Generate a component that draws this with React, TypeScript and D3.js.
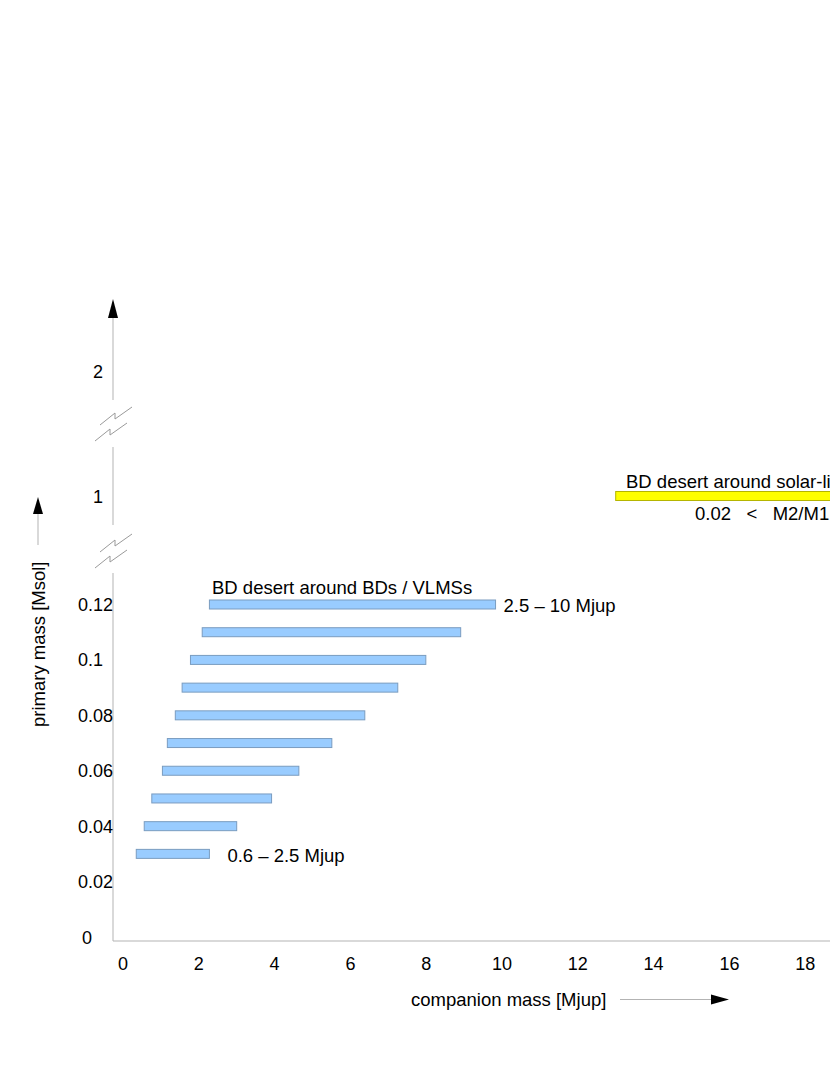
import React from 'react';
import * as d3 from 'd3';

// BD desert around BDs / VLMSs: primary mass [Msol] vs companion mass range [Mjup]
const primaryMass = [0.12, 0.11, 0.1, 0.09, 0.08, 0.07, 0.06, 0.05, 0.04, 0.03];
const desertMin = [2.28, 2.09, 1.78, 1.56, 1.38, 1.17, 1.04, 0.76, 0.56, 0.35];
const desertMax = [9.83, 8.91, 7.99, 7.25, 6.38, 5.51, 4.64, 3.92, 3.0, 2.28];

// BD desert around solar-like stars (runs off the right edge)
const solarMass = [1];
const solarMin = [13];
const solarMax = [80];

const xTicks = [0, 2, 4, 6, 8, 10, 12, 14, 16, 18];
const yTicksLow = [0, 0.02, 0.04, 0.06, 0.08, 0.1, 0.12];
const yTicksHigh = [1, 2];

const W = 830;
const H = 1075;
const FONT = '"Liberation Sans", Arial, sans-serif';
const AXIS = '#b3b3b3';

export default function App() {
  const x = d3.scaleLinear().domain([0, 18]).range([123, 805.2]);
  const yLow = d3.scaleLinear().domain([0, 0.12]).range([937, 604.5]);
  const yHigh = d3.scaleLinear().domain([1, 2]).range([496, 371.5]);

  const axisX = 113;
  const barH = 9;

  // broken-axis glyph
  const breakPath = (cy: number) => {
    const one = (dx: number, dy: number) =>
      `M${axisX - 15 + dx},${cy + 9 + dy} L${axisX + dx},${cy - 3 + dy} L${axisX + dx},${cy + 3 + dy} L${axisX + 17 + dx},${cy - 9 + dy}`;
    return one(2, -8) + ' ' + one(-3, 8);
  };

  const bars = primaryMass.map((m, i) => ({ m, lo: desertMin[i], hi: desertMax[i] }));
  const solar = solarMass.map((m, i) => ({ m, lo: solarMin[i], hi: solarMax[i] }));

  return (
    <div style={{ position: 'absolute', left: 0, top: 0 }}>
      <svg width={W} height={H} style={{ display: 'block', background: '#fff' }} fontFamily={FONT}>
        {/* y axis, in three pieces */}
        <line x1={axisX} x2={axisX} y1={941} y2={573} stroke={AXIS} />
        <line x1={axisX} x2={axisX} y1={525} y2={447} stroke={AXIS} />
        <line x1={axisX} x2={axisX} y1={400} y2={316} stroke={AXIS} />
        <path d={`M${axisX},299 L${axisX - 5},318 L${axisX + 5},318 Z`} fill="#000" />
        <path d={breakPath(424)} fill="none" stroke="#9a9a9a" />
        <path d={breakPath(551)} fill="none" stroke="#9a9a9a" />

        {/* x axis */}
        <line x1={axisX} x2={W} y1={941} y2={941} stroke={AXIS} />

        {xTicks.map((t) => (
          <text key={t} x={x(t)} y={969.5} textAnchor="middle" fontSize={18} fill="#000">
            {t}
          </text>
        ))}
        {yTicksLow.map((t) => (
          <text key={t} x={t === 0 ? 82 : 78} y={yLow(t) + 6.5} fontSize={18} fill="#000">
            {t}
          </text>
        ))}
        {yTicksHigh.map((t) => (
          <text key={t} x={93} y={yHigh(t) + 6.5} fontSize={18} fill="#000">
            {t}
          </text>
        ))}

        {/* axis titles */}
        <text x={411} y={1006} fontSize={18.5} fill="#000">companion mass [Mjup]</text>
        <line x1={620} x2={714} y1={999.5} y2={999.5} stroke={AXIS} />
        <path d="M729,999.5 L711,994.5 L711,1004.5 Z" fill="#000" />

        <text transform="translate(45,727) rotate(-90)" fontSize={18.5} fill="#000">
          primary mass [Msol]
        </text>
        <line x1={38} x2={38} y1={545} y2={512} stroke={AXIS} />
        <path d="M38,497 L33,514 L43,514 Z" fill="#000" />

        {/* blue bars */}
        {bars.map((d) => (
          <rect
            key={d.m}
            x={x(d.lo)}
            y={yLow(d.m) - barH / 2}
            width={x(d.hi) - x(d.lo)}
            height={barH}
            fill="#99ccff"
            stroke="#7a9cc0"
            strokeWidth={1}
          />
        ))}
        <text x={212} y={594} fontSize={18.5} fill="#000">BD desert around BDs / VLMSs</text>
        <text x={x(desertMax[0]) + 8} y={yLow(primaryMass[0]) + 7} fontSize={18.5} fill="#000">
          2.5 – 10 Mjup
        </text>
        <text
          x={x(desertMax[desertMax.length - 1]) + 18}
          y={yLow(primaryMass[primaryMass.length - 1]) + 8}
          fontSize={18.5}
          fill="#000"
        >
          0.6 – 2.5 Mjup
        </text>

        {/* yellow bar */}
        {solar.map((d) => (
          <rect
            key={d.m}
            x={x(d.lo)}
            y={yHigh(d.m) - barH / 2}
            width={x(d.hi) - x(d.lo)}
            height={barH}
            fill="#ffff00"
            stroke="#b5b500"
            strokeWidth={1}
          />
        ))}
        <text x={626} y={488} fontSize={18.5} fill="#000">BD desert around solar-like stars</text>
        <text x={695} y={520} fontSize={18.5} fill="#000" xmlSpace="preserve" style={{ whiteSpace: 'pre' }}>
          {'0.02   <   M2/M1   <   0.08'}
        </text>
      </svg>
    </div>
  );
}
